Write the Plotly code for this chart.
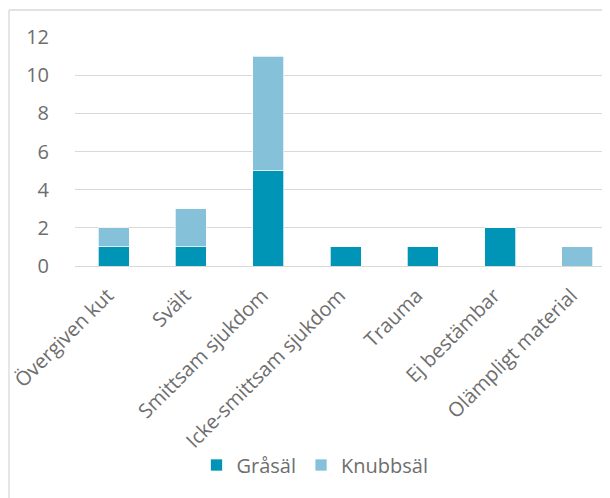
import plotly.graph_objects as go

categories = ["Övergiven kut", "Svält", "Smittsam sjukdom", "Icke-smittsam sjukdom",
              "Trauma", "Ej bestämbar", "Olämpligt material"]
grasal = [1, 1, 5, 1, 1, 2, 0]
knubbsal = [1, 2, 6, 0, 0, 0, 1]
series_names = ["Gråsäl", "Knubbsäl"]
y_ticks = [0, 2, 4, 6, 8, 10, 12]

FONT = "Open Sans"
TXT = "#6E6E6E"
FS = 20

fig = go.Figure()
fig.add_trace(go.Bar(x=categories, y=grasal, name=series_names[0],
                     marker=dict(color="#0095B6", line=dict(color="white", width=0.7))))
fig.add_trace(go.Bar(x=categories, y=knubbsal, name=series_names[1],
                     marker=dict(color="#86C1DA", line=dict(color="white", width=0.7))))

OFF = 8  # page body margin
L, T = 75 - OFF, 37 - OFF
W, H = 610, 498
B = H - (266 - OFF)
pw = W - L
ph = H - T - B

fig.update_layout(
    width=W, height=H,
    margin=dict(l=L, r=0, t=T, b=B, pad=0),
    barmode="stack", bargap=0.6,
    plot_bgcolor="white", paper_bgcolor="white",
    font=dict(family=FONT, size=FS, color=TXT),
    showlegend=True,
    legend=dict(orientation="h", x=(315 - OFF - L) / pw, xanchor="center",
                y=(T + ph - (465 - OFF)) / ph, yanchor="middle",
                font=dict(size=FS, color=TXT), itemwidth=30, traceorder="normal"),
    xaxis=dict(range=[-0.5, -0.5 + pw / 77.3], tickangle=-45, showgrid=False,
               showline=False, ticks="outside", ticklen=9, tickcolor="rgba(0,0,0,0)",
               ticklabelshift=-6,
               tickfont=dict(size=FS, color=TXT), automargin=False),
    yaxis=dict(range=[0, 12], tickvals=y_ticks, showgrid=True, gridcolor="#D9D9D9",
               gridwidth=1.3, zeroline=True, zerolinecolor="#D9D9D9", zerolinewidth=1.3,
               ticks="outside", ticklen=21, tickcolor="rgba(0,0,0,0)",
               tickfont=dict(size=FS, color=TXT), automargin=False),
    shapes=[
        dict(type="line", xref="paper", yref="paper",
             x0=(1 - L) / pw, x1=(1 - L) / pw, y0=(T + ph - 520) / ph, y1=1 + (T - 2) / ph,
             line=dict(color="#D9D9D9", width=1.3)),
        dict(type="line", xref="paper", yref="paper",
             x0=(1 - L) / pw, x1=1.1, y0=1 + (T - 2) / ph, y1=1 + (T - 2) / ph,
             line=dict(color="#D9D9D9", width=1.3)),
    ],
)

fig.write_html("out.html")
